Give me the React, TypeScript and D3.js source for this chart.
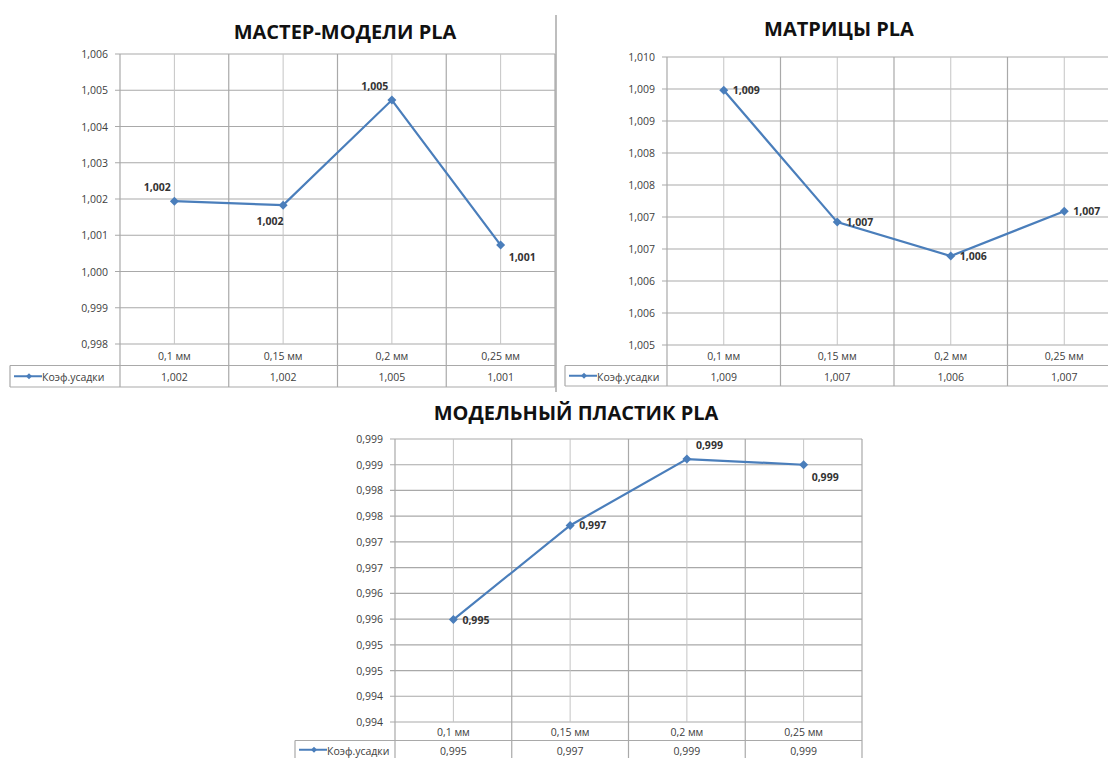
import React from "react";
import * as d3 from "d3";

// shared categories / series name
const categories = ["0,1 мм", "0,15 мм", "0,2 мм", "0,25 мм"];
const seriesName = "Коэф.усадки";

// МАСТЕР-МОДЕЛИ PLA
const masterValues = [1.00194, 1.00183, 1.00473, 1.00073];
const masterTable = ["1,002", "1,002", "1,005", "1,001"];
const masterTicks = [0.998, 0.999, 1.0, 1.001, 1.002, 1.003, 1.004, 1.005, 1.006];
const masterTickLabels = ["0,998", "0,999", "1,000", "1,001", "1,002", "1,003", "1,004", "1,005", "1,006"];
const masterLabelPos = ["top", "bottom", "top", "bottomRight"];

// МАТРИЦЫ PLA
const matrixValues = [1.00898, 1.00692, 1.00639, 1.00709];
const matrixTable = ["1,009", "1,007", "1,006", "1,007"];
const matrixTicks = [1.005, 1.0055, 1.006, 1.0065, 1.007, 1.0075, 1.008, 1.0085, 1.009, 1.0095];
const matrixTickLabels = ["1,005", "1,006", "1,006", "1,007", "1,007", "1,008", "1,008", "1,009", "1,009", "1,010"];
const matrixLabelPos = ["right", "right", "right", "right"];

// МОДЕЛЬНЫЙ ПЛАСТИК PLA
const plasticValues = [0.99549, 0.99732, 0.99861, 0.9985];
const plasticTable = ["0,995", "0,997", "0,999", "0,999"];
const plasticTicks = [0.9935, 0.994, 0.9945, 0.995, 0.9955, 0.996, 0.9965, 0.997, 0.9975, 0.998, 0.9985, 0.999];
const plasticTickLabels = ["0,994", "0,994", "0,995", "0,995", "0,996", "0,996", "0,997", "0,997", "0,998", "0,998", "0,999", "0,999"];
const plasticLabelPos = ["right", "right", "topRight", "bottomRight"];

const BLUE = "#4a7ebb";
const GRID = "#a9a9a9";
const FONT = "'Open Sans', 'Noto Sans', sans-serif";

type ChartProps = {
  title: string;
  titleX: number;
  titleY: number;
  values: number[];
  table: string[];
  ticks: number[];
  tickLabels: string[];
  labelPos: string[];
  x0: number;
  x1: number;
  y0: number;
  y1: number;
  legendX: number;
  rowH: number;
};

const labelOffset: Record<string, { dx: number; dy: number; anchor: string }> = {
  top: { dx: -17, dy: -10, anchor: "middle" },
  bottom: { dx: -13, dy: 20, anchor: "middle" },
  right: { dx: 9, dy: 4, anchor: "start" },
  topRight: { dx: 9, dy: -10, anchor: "start" },
  bottomRight: { dx: 8, dy: 16, anchor: "start" },
};

const Diamond: React.FC<{ x: number; y: number; r?: number }> = ({ x, y, r = 4 }) => (
  <path d={`M${x},${y - r}L${x + r},${y}L${x},${y + r}L${x - r},${y}Z`} fill={BLUE} />
);

const ExcelLineChart: React.FC<ChartProps> = (p) => {
  const band = d3.scaleBand<string>().domain(categories).range([p.x0, p.x1]);
  const y = d3
    .scaleLinear()
    .domain([p.ticks[0], p.ticks[p.ticks.length - 1]])
    .range([p.y1, p.y0]);
  const cx = (c: string) => (band(c) as number) + band.bandwidth() / 2;

  const line = d3
    .line<number>()
    .x((_, i) => cx(categories[i]))
    .y((d) => y(d));

  const r1 = p.y1 + p.rowH;
  const r2 = p.y1 + p.rowH * 2;

  return (
    <g>
      <text
        x={p.titleX}
        y={p.titleY}
        textAnchor="middle"
        dominantBaseline="central"
        fontFamily={FONT}
        fontWeight="bold"
        fontSize={20}
        fill="#111"
      >
        {p.title}
      </text>

      {/* horizontal gridlines + y labels */}
      {p.ticks.map((t, i) => (
        <g key={"t" + i}>
          <line x1={p.x0 - 5} x2={p.x1} y1={y(t)} y2={y(t)} stroke={GRID} strokeWidth={1.2} />
          <text
            x={p.x0 - 12}
            y={y(t)}
            textAnchor="end"
            dominantBaseline="central"
            fontFamily={FONT}
            fontSize={10.5}
            fill="#404040"
          >
            {p.tickLabels[i]}
          </text>
        </g>
      ))}

      {/* vertical gridlines at category centers */}
      {categories.map((c) => (
        <line key={"vc" + c} x1={cx(c)} x2={cx(c)} y1={p.y0} y2={p.y1} stroke="#c4c4c4" strokeWidth={1} />
      ))}
      {/* category boundaries run through plot and data table */}
      {categories.map((c) => (
        <line
          key={"vb" + c}
          x1={band(c) as number}
          x2={band(c) as number}
          y1={p.y0}
          y2={r2}
          stroke={GRID}
          strokeWidth={1.2}
        />
      ))}
      <line x1={p.x1} x2={p.x1} y1={p.y0} y2={r2} stroke={GRID} strokeWidth={1.2} />

      {/* data table */}
      <line x1={p.legendX} x2={p.x1} y1={r1} y2={r1} stroke={GRID} strokeWidth={1.2} />
      <line x1={p.legendX} x2={p.x1} y1={r2} y2={r2} stroke={GRID} strokeWidth={1.2} />
      <line x1={p.legendX} x2={p.legendX} y1={r1} y2={r2} stroke={GRID} strokeWidth={1.2} />
      {categories.map((c, i) => (
        <g key={"tb" + c}>
          <text
            x={cx(c)}
            y={p.y1 + p.rowH / 2 + 1}
            textAnchor="middle"
            dominantBaseline="central"
            fontFamily={FONT}
            fontSize={10.5}
            fill="#404040"
          >
            {c}
          </text>
          <text
            x={cx(c)}
            y={r1 + p.rowH / 2 + 1}
            textAnchor="middle"
            dominantBaseline="central"
            fontFamily={FONT}
            fontSize={10.5}
            fill="#404040"
          >
            {p.table[i]}
          </text>
        </g>
      ))}
      {/* legend key in table */}
      <line x1={p.legendX + 4} x2={p.legendX + 32} y1={r1 + p.rowH / 2} y2={r1 + p.rowH / 2} stroke={BLUE} strokeWidth={2} />
      <Diamond x={p.legendX + 19} y={r1 + p.rowH / 2} r={3} />
      <text
        x={p.legendX + 32}
        y={r1 + p.rowH / 2 + 1}
        dominantBaseline="central"
        fontFamily={FONT}
        fontSize={10.5}
        fill="#404040"
      >
        {seriesName}
      </text>

      {/* series */}
      <path d={line(p.values) || ""} fill="none" stroke={BLUE} strokeWidth={2.2} />
      {p.values.map((v, i) => (
        <Diamond key={"m" + i} x={cx(categories[i])} y={y(v)} r={4.5} />
      ))}
      {p.values.map((v, i) => {
        const o = labelOffset[p.labelPos[i]];
        return (
          <text
            key={"dl" + i}
            x={cx(categories[i]) + o.dx}
            y={y(v) + o.dy}
            textAnchor={o.anchor}
            fontFamily={FONT}
            fontWeight="bold"
            fontSize={10.5}
            fill="#333"
          >
            {p.table[i]}
          </text>
        );
      })}
    </g>
  );
};

export default function App() {
  return (
    <svg
      width={1108}
      height={758}
      style={{ position: "absolute", left: 0, top: 0, background: "#fff" }}
    >
      <rect width={1108} height={758} fill="#fff" />
      <line x1={556} x2={556} y1={15} y2={392} stroke={GRID} strokeWidth={1.5} />
      <ExcelLineChart
        title="МАСТЕР-МОДЕЛИ PLA"
        titleX={345}
        titleY={31}
        values={masterValues}
        table={masterTable}
        ticks={masterTicks}
        tickLabels={masterTickLabels}
        labelPos={masterLabelPos}
        x0={120}
        x1={555}
        y0={54}
        y1={344}
        legendX={10}
        rowH={21.5}
      />
      <ExcelLineChart
        title="МАТРИЦЫ PLA"
        titleX={839}
        titleY={28}
        values={matrixValues}
        table={matrixTable}
        ticks={matrixTicks}
        tickLabels={matrixTickLabels}
        labelPos={matrixLabelPos}
        x0={667}
        x1={1121}
        y0={57}
        y1={345}
        legendX={565}
        rowH={20.5}
      />
      <ExcelLineChart
        title="МОДЕЛЬНЫЙ ПЛАСТИК PLA"
        titleX={576}
        titleY={412}
        values={plasticValues}
        table={plasticTable}
        ticks={plasticTicks}
        tickLabels={plasticTickLabels}
        labelPos={plasticLabelPos}
        x0={395}
        x1={862}
        y0={439}
        y1={722}
        legendX={295}
        rowH={18.5}
      />
    </svg>
  );
}
